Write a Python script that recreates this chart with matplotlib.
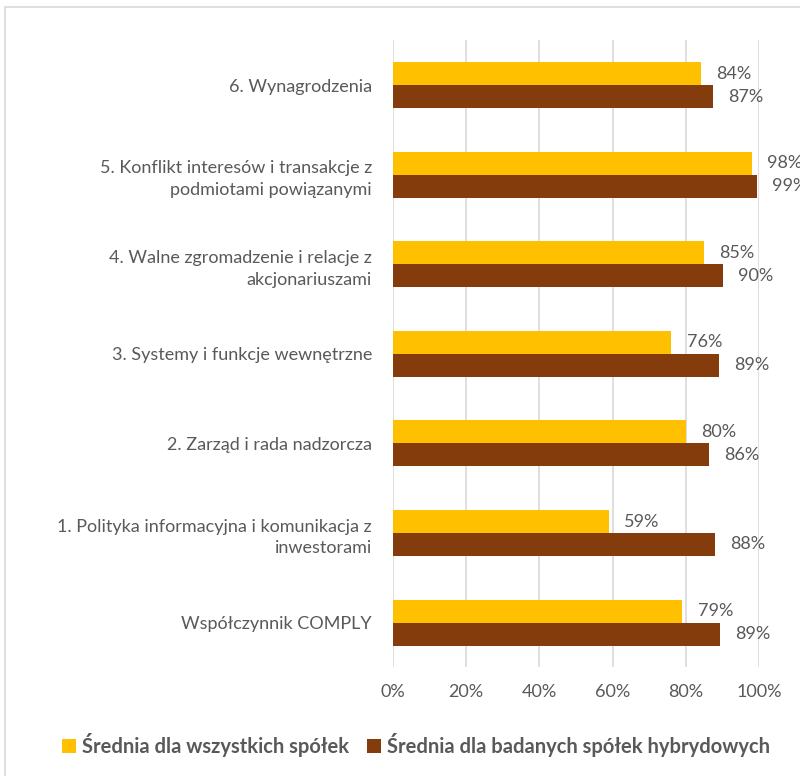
import matplotlib.pyplot as plt
from matplotlib.patches import Rectangle
import numpy as np

plt.rcParams['font.family'] = ['Lato', 'DejaVu Sans']

categories = ['Współczynnik COMPLY',
              '1. Polityka informacyjna i komunikacja z\ninwestorami',
              '2. Zarząd i rada nadzorcza',
              '3. Systemy i funkcje wewnętrzne',
              '4. Walne zgromadzenie i relacje z\nakcjonariuszami',
              '5. Konflikt interesów i transakcje z\npodmiotami powiązanymi',
              '6. Wynagrodzenia']
all_companies = [0.79, 0.59, 0.80, 0.76, 0.85, 0.98, 0.84]
hybrid_companies = [0.893, 0.88, 0.863, 0.89, 0.90, 0.994, 0.874]
series_names = ['Średnia dla wszystkich spółek', 'Średnia dla badanych spółek hybrydowych']
xticks = [0, 0.2, 0.4, 0.6, 0.8, 1.0]

yellow = '#FFC000'
brown = '#843C0C'
grey = '#595959'

fig = plt.figure(figsize=(8, 7.76), dpi=100)
ax = fig.add_axes([0.491, 0.140, 0.458, 0.808])

y = np.arange(len(categories))
h = 0.256
ax.barh(y + h / 2, all_companies, height=h, color=yellow, label=series_names[0], zorder=3)
ax.barh(y - h / 2, hybrid_companies, height=h, color=brown, label=series_names[1], zorder=3)

for i in range(len(categories)):
    ax.annotate(f'{all_companies[i]:.0%}', (all_companies[i], y[i] + h / 2), xytext=(11, 0),
                textcoords='offset points', va='center', ha='left', fontsize=13, color=grey,
                annotation_clip=False)
    ax.annotate(f'{hybrid_companies[i]:.0%}', (hybrid_companies[i], y[i] - h / 2), xytext=(11, 0),
                textcoords='offset points', va='center', ha='left', fontsize=13, color=grey,
                annotation_clip=False)

ax.set_xlim(0, 1)
ax.set_ylim(-0.5, len(categories) - 0.5)
ax.set_xticks(xticks)
ax.set_xticklabels([f'{t:.0%}' for t in xticks], fontsize=13, color=grey)
ax.set_yticks(y)
ax.set_yticklabels(categories, fontsize=13, color=grey, linespacing=1.45)
ax.tick_params(length=0, pad=12)
ax.tick_params(axis='y', pad=15)
ax.grid(axis='x', color='#d9d9d9', linewidth=1.2, zorder=0)
for s in ax.spines.values():
    s.set_visible(False)

# light border around the chart area
fig.patches.append(Rectangle((5 / 800, -0.1), 1.2, 1 - 7 / 776 + 0.1, transform=fig.transFigure,
                             fill=False, edgecolor='#d9d9d9', linewidth=1.2))

leg = fig.legend(loc='center', bbox_to_anchor=(0.52, 1 - 745 / 776), ncol=2, frameon=False,
                 handlelength=0.7, handleheight=0.7, handletextpad=0.3, columnspacing=0.9,
                 prop={'size': 14.5, 'weight': 'bold'})
for t in leg.get_texts():
    t.set_color(grey)

fig.savefig('out.png', dpi=100)
